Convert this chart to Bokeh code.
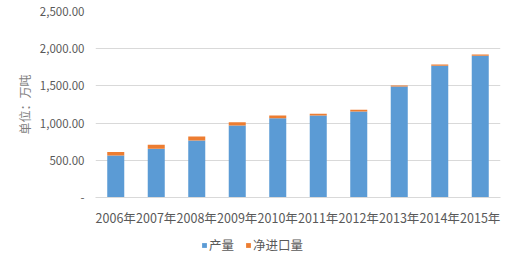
from bokeh.plotting import figure
from bokeh.layouts import column
from bokeh.models import ColumnDataSource, FixedTicker, Legend, LegendItem
from bokeh.embed import file_html
from bokeh.resources import INLINE

years = ["2006年", "2007年", "2008年", "2009年", "2010年", "2011年", "2012年", "2013年", "2014年", "2015年"]
production = [565, 654, 766, 968, 1066, 1102, 1156, 1492, 1770, 1905]
net_import = [45, 54, 54, 44, 36, 23, 23, 13, 18, 17]
y_ticks = [0, 500, 1000, 1500, 2000, 2500]
y_tick_labels = ["-", "500.00", "1,000.00", "1,500.00", "2,000.00", "2,500.00"]
series = ["产量", "净进口量"]
series_cols = ["production", "net_import"]
colors = ["#5B9BD5", "#ED7D31"]

source = ColumnDataSource(dict(years=years, production=production, net_import=net_import))
font = "Noto Sans CJK SC"

p = figure(x_range=years, y_range=(0, 2500), width=520, height=229,
           output_backend="svg", toolbar_location=None,
           min_border_left=95, min_border_right=20, min_border_top=11, min_border_bottom=32)
p.outline_line_color = None
p.background_fill_color = "white"
p.border_fill_color = "white"

rs = p.vbar_stack(series_cols, x="years", width=0.42, color=colors,
                  line_color=None, source=source)

p.yaxis.ticker = FixedTicker(ticks=y_ticks)
p.yaxis.major_label_overrides = dict(zip(y_ticks, y_tick_labels))
p.yaxis.axis_line_color = None
p.yaxis.major_tick_line_color = None
p.yaxis.minor_tick_line_color = None
p.yaxis.major_label_text_font = font
p.yaxis.major_label_text_font_size = "11.5px"
p.yaxis.major_label_text_color = "#595959"
p.yaxis.axis_label = "单位：万吨"
p.yaxis.axis_label_text_font = font
p.yaxis.axis_label_text_font_size = "12px"
p.yaxis.axis_label_text_font_style = "normal"
p.yaxis.axis_label_text_color = "#7f7f7f"
p.yaxis.axis_label_standoff = 4

p.xaxis.axis_line_color = "#d9d9d9"
p.xaxis.major_tick_line_color = None
p.xaxis.minor_tick_line_color = None
p.xaxis.major_label_text_font = font
p.xaxis.major_label_text_font_size = "12.5px"
p.xaxis.major_label_text_color = "#595959"
p.xaxis.major_label_standoff = 4

p.xgrid.grid_line_color = None
p.ygrid.grid_line_color = "#d9d9d9"
p.ygrid.ticker = FixedTicker(ticks=y_ticks)

# legend strip below the chart: zero-height bars (below the visible range) only supply swatches
lg = figure(width=520, height=31, output_backend="svg", toolbar_location=None,
            min_border=0, x_range=years, y_range=(3000, 4000))
lg.outline_line_color = None
lg.axis.visible = False
lg.grid.visible = False
lg_rs = [lg.vbar(x="years", top=col, bottom=col, width=0.42, color=c,
                 line_color=None, source=source)
         for col, c in zip(series_cols, colors)]
legend = Legend(items=[LegendItem(label=s, renderers=[r]) for s, r in zip(series, lg_rs)],
                orientation="horizontal", location=(106, 6),
                label_text_font=font, label_text_font_size="12.5px", label_text_color="#595959",
                glyph_width=6, glyph_height=6, spacing=11, label_standoff=2,
                border_line_color=None, background_fill_alpha=0, padding=0, margin=0)
lg.add_layout(legend, "center")

layout = column(p, lg, spacing=0)
open("out.html", "w").write(file_html(layout, INLINE))
